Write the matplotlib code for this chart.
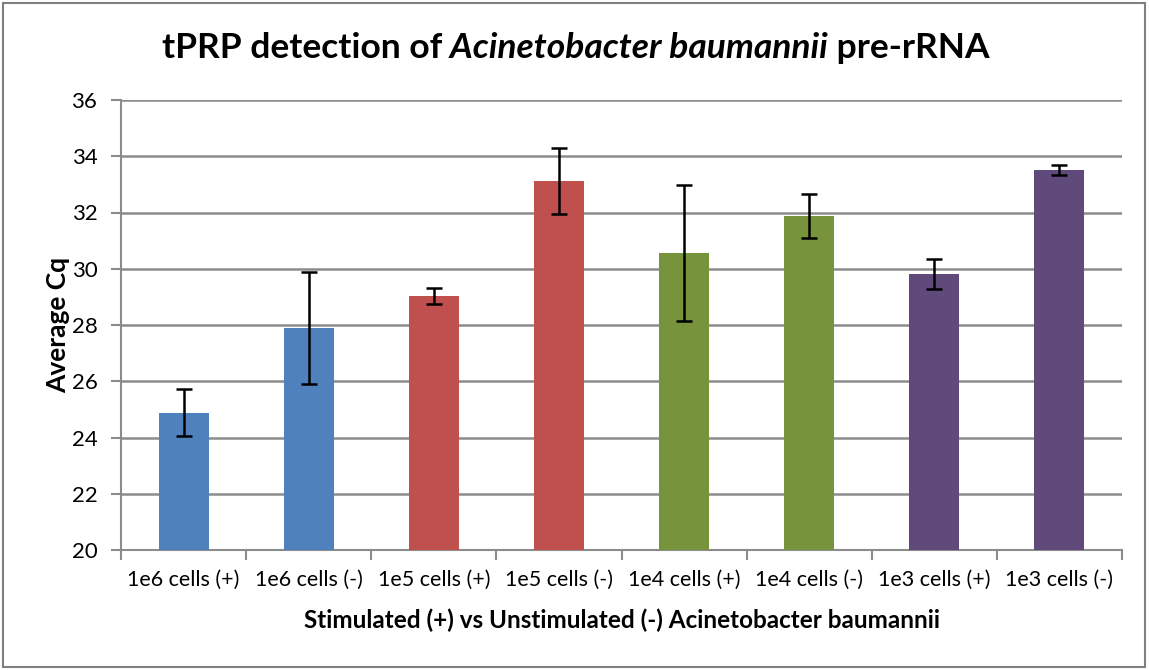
import matplotlib
matplotlib.use("Agg")
import matplotlib.pyplot as plt
from matplotlib.patches import Rectangle
import numpy as np

plt.rcParams['font.family'] = ['Lato', 'DejaVu Sans']

categories = ["1e6 cells (+)", "1e6 cells (-)", "1e5 cells (+)", "1e5 cells (-)",
              "1e4 cells (+)", "1e4 cells (-)", "1e3 cells (+)", "1e3 cells (-)"]
avg_cq = [24.88, 27.9, 29.03, 33.12, 30.56, 31.88, 29.81, 33.51]
err = [0.83, 2.0, 0.29, 1.16, 2.43, 0.78, 0.53, 0.18]
colors = ["#4F81BD", "#4F81BD", "#C0504D", "#C0504D",
          "#77933C", "#77933C", "#604A7B", "#604A7B"]
yticks = [20, 22, 24, 26, 28, 30, 32, 34, 36]

fig = plt.figure(figsize=(11.49, 6.70), dpi=100)
ax = fig.add_axes([121/1149, 1 - 550/670, 1001/1149, 450/670])

# outer chart border
fig.patches.append(Rectangle((3/1149, 3/670), 1142/1149, 664/670, transform=fig.transFigure,
                             fill=False, edgecolor="#808080", linewidth=1.5))

x = np.arange(len(categories))
ax.bar(x, np.array(avg_cq) - 20, bottom=20, width=0.4, color=colors, zorder=3)
ax.errorbar(x, avg_cq, yerr=err, fmt="none", ecolor="black", elinewidth=1.8,
            capsize=6, capthick=1.8, zorder=4)

ax.set_xlim(-0.5, len(categories) - 0.5)
ax.set_ylim(20, 36)
ax.set_yticks(yticks)
ax.set_yticklabels([str(v) for v in yticks], fontsize=16)
ax.yaxis.grid(True, color="#8C8C8C", linewidth=1.8, zorder=0)
ax.set_axisbelow(True)

ax.set_xticks(np.arange(len(categories) + 1) - 0.5)
ax.set_xticklabels([])
ax.set_xticks(x, minor=True)
ax.set_xticklabels(categories, minor=True, fontsize=15.5)
ax.tick_params(axis="x", which="minor", length=0, pad=14)
ax.tick_params(axis="x", which="major", length=7, color="#8C8C8C", width=1.5)
ax.tick_params(axis="y", length=7, color="#8C8C8C", width=1.5, pad=10)

for s in ["top", "right"]:
    ax.spines[s].set_visible(False)
for s in ["left", "bottom"]:
    ax.spines[s].set_color("#8C8C8C")
    ax.spines[s].set_linewidth(1.5)

ax.set_ylabel("Average Cq", fontsize=19, fontweight="bold", labelpad=1)
ax.set_xlabel("Stimulated (+) vs Unstimulated (-) Acinetobacter baumannii",
              fontsize=17.5, fontweight="bold", labelpad=14)

# title with italic species name
t1 = fig.text(0, 0, "tPRP detection of", fontsize=25.5, fontweight="bold")
t2 = fig.text(0, 0, " Acinetobacter baumannii", fontsize=25.5, fontweight="bold", style="italic")
t3 = fig.text(0, 0, " pre-rRNA", fontsize=25.5, fontweight="bold")
fig.canvas.draw()
r = fig.canvas.get_renderer()
w1 = t1.get_window_extent(r).width
w2 = t2.get_window_extent(r).width
w3 = t3.get_window_extent(r).width
total = w1 + w2 + w3
x0 = 576 - total / 2
y0 = 1 - 58/670
t1.set_position((x0/1149, y0))
t2.set_position(((x0 + w1)/1149, y0))
t3.set_position(((x0 + w1 + w2)/1149, y0))

fig.savefig("out.png", dpi=100)
